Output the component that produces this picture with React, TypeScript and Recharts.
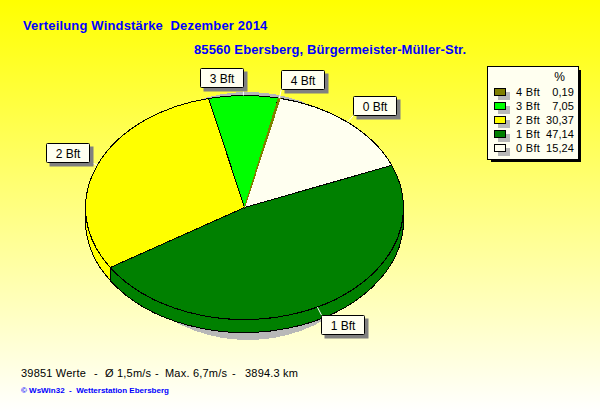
import { PieChart, Pie, Cell } from "recharts";

const categories = ["0 Bft", "1 Bft", "2 Bft", "3 Bft", "4 Bft"];
const percents = [15.24, 47.14, 30.37, 7.05, 0.19];
const sliceColors = ["#fffff0", "#008000", "#ffff00", "#00ff00", "#808000"];
const legendOrder = [4, 3, 2, 1, 0];
const percentLabels = ["15,24", "47,14", "30,37", "7,05", "0,19"];
const footerParts = ["39851 Werte", "-", "Ø 1,5m/s", "-", "Max. 6,7m/s", "-", "3894.3 km"];
const footerLeft = [21, 94, 105, 155, 165, 232, 245];

const data = categories.map((name, i) => ({ name, value: percents[i] }));

const RX = 159;
const RY = 112;
const DEPTH = 13;
const RAD = Math.PI / 180;
const FONT = '"Liberation Sans", Arial, sans-serif';

const rim = (cx: number, cy: number, a: number) => ({
  x: cx + RX * Math.cos(a * RAD),
  y: cy - RY * Math.sin(a * RAD),
});

// elliptical slice with its side wall, angles run clockwise from start to end
const PieSlice = (props: any) => {
  const { cx, cy, startAngle, endAngle, fill } = props;
  const hi = Math.max(startAngle, endAngle);
  const lo = Math.min(startAngle, endAngle);
  const a = rim(cx, cy, hi);
  const b = rim(cx, cy, lo);
  const large = hi - lo > 180 ? 1 : 0;
  const wallFrom = Math.min(hi, 0);
  const wallTo = Math.max(lo, -180);
  // a sliver would be all outline otherwise
  const outline = hi - lo < 2 ? fill : "#000";
  let wall = null;
  if (wallFrom > wallTo) {
    const p = rim(cx, cy, wallFrom);
    const q = rim(cx, cy, wallTo);
    wall = (
      <path
        d={`M${p.x},${p.y} A${RX},${RY} 0 0 1 ${q.x},${q.y} L${q.x},${q.y + DEPTH} A${RX},${RY} 0 0 0 ${p.x},${p.y + DEPTH} Z`}
        fill={fill}
        stroke="#000"
        strokeWidth={1}
        shapeRendering="crispEdges"
      />
    );
  }
  return (
    <g>
      {wall}
      <path
        d={`M${cx},${cy} L${a.x},${a.y} A${RX},${RY} 0 ${large} 1 ${b.x},${b.y} Z`}
        fill={fill}
        stroke={outline}
        strokeWidth={1}
        shapeRendering="crispEdges"
      />
    </g>
  );
};

const BOX_W = 43;
const BOX_H = 19;

const SliceLabel = (props: any) => {
  const { cx, cy, midAngle, name } = props;
  const p = rim(cx, cy, midAngle);
  const c = Math.cos(midAngle * RAD);
  const s = Math.sin(midAngle * RAD);
  const ex = p.x + 9 * c;
  const ey = p.y - 9 * s;
  const bx = Math.round(c >= 0.02 ? ex : ex - BOX_W) + 0.5;
  const by = Math.round(s >= 0 ? ey - BOX_H : ey) + 0.5;
  return (
    <g>
      <line x1={p.x} y1={p.y} x2={ex} y2={ey} stroke="#fff" strokeWidth={1} />
      <rect x={bx + 3} y={by + 3} width={BOX_W + 1} height={BOX_H + 1} fill="#808080" />
      <rect x={bx} y={by} width={BOX_W} height={BOX_H} fill="#fffff0" stroke="#000" strokeWidth={1} rx={1} />
      <text
        x={bx + BOX_W / 2}
        y={by + 14}
        textAnchor="middle"
        fontFamily={FONT}
        fontSize={12}
        fill="#000"
      >
        {name}
      </text>
    </g>
  );
};

const textBase = { position: "absolute", whiteSpace: "pre", fontFamily: FONT } as const;

export default function App() {
  return (
    <div
      style={{
        position: "absolute",
        left: 0,
        top: 0,
        width: 600,
        height: 412,
        overflow: "hidden",
        background: "linear-gradient(to bottom, #ffff00 0%, #ffffff 100%)",
      }}
    >
      <svg width={600} height={412} style={{ position: "absolute", left: 0, top: 0 }}>
        <ellipse cx={248} cy={216} rx={140} ry={124} fill="#b8b8b8" shapeRendering="crispEdges" />
      </svg>
      <div style={{ position: "absolute", left: 0, top: 0 }}>
        <PieChart width={600} height={412} margin={{ top: 0, right: 0, bottom: 0, left: 0 }}>
          <Pie
            data={data}
            dataKey="value"
            nameKey="name"
            cx={244.5}
            cy={207.5}
            outerRadius={RX}
            startAngle={77}
            endAngle={-283}
            stroke="#000"
            shape={PieSlice}
            label={SliceLabel}
            labelLine={false}
            isAnimationActive={false}
          >
            {data.map((d, i) => (
              <Cell key={d.name} fill={sliceColors[i]} />
            ))}
          </Pie>
        </PieChart>
      </div>

      <div style={{ ...textBase, left: 23, top: 18, fontSize: 13, fontWeight: 700, color: "#0000ff", letterSpacing: 0.17 }}>
        {"Verteilung Windstärke  Dezember 2014"}
      </div>
      <div style={{ ...textBase, left: 194, top: 42, fontSize: 13, fontWeight: 700, color: "#0000ff", letterSpacing: 0.1 }}>
        85560 Ebersberg, Bürgermeister-Müller-Str.
      </div>

      <div style={{ position: "absolute", left: 491, top: 70, width: 90, height: 92, background: "#000" }} />
      <div
        style={{
          position: "absolute",
          left: 487,
          top: 66,
          width: 90,
          height: 92,
          background: "#fffff0",
          border: "1px solid #000",
          boxSizing: "content-box",
        }}
      >
        <div style={{ ...textBase, right: 13, top: 3, fontSize: 12 }}>%</div>
        {legendOrder.map((idx, row) => (
          <div key={idx}>
            <div style={{ position: "absolute", left: 10, top: 25 + row * 14, width: 12, height: 8, background: "#b8b8b8" }} />
            <div style={{ position: "absolute", left: 6, top: 21 + row * 14, width: 10, height: 6, background: sliceColors[idx], border: "1px solid #000" }} />
            <div style={{ ...textBase, left: 28, top: 19 + row * 14, fontSize: 11, letterSpacing: 0.3 }}>{categories[idx]}</div>
            <div style={{ ...textBase, right: 4, top: 19 + row * 14, fontSize: 11, letterSpacing: 0.1 }}>{percentLabels[idx]}</div>
          </div>
        ))}
      </div>

      {footerParts.map((part, i) => (
        <div key={i} style={{ ...textBase, left: footerLeft[i], top: 367, fontSize: 11, letterSpacing: 0.2 }}>
          {part}
        </div>
      ))}
      <div style={{ ...textBase, left: 21, top: 386, fontSize: 8, fontWeight: 700, color: "#0000ff" }}>
        {"© WsWin32  -  Wetterstation Ebersberg"}
      </div>
    </div>
  );
}
